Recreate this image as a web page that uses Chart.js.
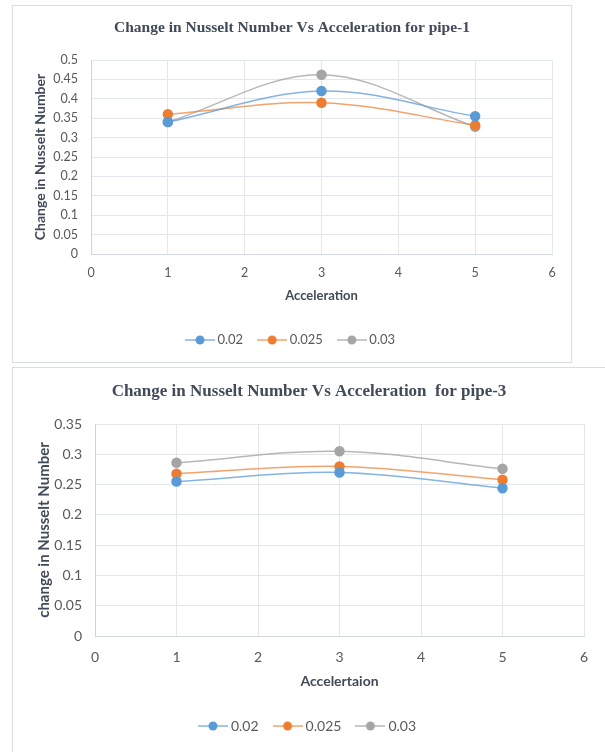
<!DOCTYPE html>
<html>
<head>
<meta charset="utf-8">
<script src="https://cdn.jsdelivr.net/npm/chart.js@4/dist/chart.umd.min.js"></script>
<style>
  html, body { margin: 0; padding: 0; background: #fff; overflow: hidden; }
  body { width: 605px; height: 752px; position: relative; }
  .box { position: absolute; border: 1px solid #d9dde3; background: #fff; }
  #box1 { left: 12px; top: 5px; width: 558px; height: 356px; }
  #box2 { left: 12px; top: 367px; width: 600px; height: 400px; border-right: none; border-bottom: none; }
  canvas { display: block; }
</style>
</head>
<body>
<div class="box" id="box1"><canvas id="pipe1Chart" width="558" height="356"></canvas></div>
<div class="box" id="box2"><canvas id="pipe3Chart" width="592" height="384"></canvas></div>
<script>
// x values (acceleration) and series names
const acceleration = [1, 3, 5];
const seriesNames = ['0.02', '0.025', '0.03'];

// pipe-1 values
const pipe1_002 = [0.34, 0.42, 0.355];
const pipe1_0025 = [0.36, 0.39, 0.332];
const pipe1_003 = [0.34, 0.462, 0.328];

// pipe-3 values
const pipe3_002 = [0.255, 0.27, 0.244];
const pipe3_0025 = [0.268, 0.28, 0.258];
const pipe3_003 = [0.286, 0.305, 0.276];

// axis ranges
const xRange = [0, 6];
const pipe1YRange = [0, 0.5];
const pipe3YRange = [0, 0.35];
const yStep = 0.05;

const colors = ['#5B9BD5', '#ED7D31', '#A5A5A5'];
const lineColors = ['rgba(91, 155, 213, 0.75)', 'rgba(237, 125, 49, 0.7)', 'rgba(165, 165, 165, 0.8)'];
const textColor = '#595959';
const titleColor = '#404a58';
const gridColor = '#e3e6ec';

Chart.defaults.devicePixelRatio = 1;

// line-with-dot marker for the legend (Excel style)
function legendMarker(i) {
    const c = document.createElement('canvas');
    c.width = 30;
    c.height = 10;
    const ctx = c.getContext('2d');
    ctx.strokeStyle = lineColors[i];
    ctx.lineWidth = 1.5;
    ctx.beginPath();
    ctx.moveTo(0, 5);
    ctx.lineTo(30, 5);
    ctx.stroke();
    ctx.fillStyle = colors[i];
    ctx.beginPath();
    ctx.arc(15, 5, 4.5, 0, Math.PI * 2);
    ctx.fill();
    return c;
}
const markers = colors.map((c, i) => legendMarker(i));

function buildDatasets(seriesValues) {
    return seriesValues.map((vals, i) => ({
        label: seriesNames[i],
        data: acceleration.map((x, j) => ({ x: x, y: vals[j] })),
        borderColor: lineColors[i],
        backgroundColor: colors[i],
        pointBackgroundColor: colors[i],
        pointBorderColor: colors[i],
        pointStyle: 'circle',
        pointRadius: 4.5,
        pointHoverRadius: 4.5,
        borderWidth: 1.5,
        tension: 0.35
    }));
}

function makeChart(id, s) {
    return new Chart(document.getElementById(id), {
        type: 'line',
        data: { datasets: buildDatasets(s.series) },
        options: {
            responsive: false,
            animation: false,
            layout: { padding: { left: 0, right: 0, top: 0, bottom: s.padBottom } },
            plugins: {
                tooltip: { enabled: false },
                title: {
                    display: true,
                    text: s.title,
                    color: titleColor,
                    font: { family: "'Liberation Serif', serif", weight: 'bold', size: s.titleSize },
                    padding: { top: s.titlePadTop, bottom: s.titlePadBottom }
                },
                legend: {
                    position: 'bottom',
                    labels: {
                        usePointStyle: true,
                        pointStyleWidth: 22,
                        padding: 18,
                        color: textColor,
                        font: { family: 'Lato', size: s.legendSize },
                        generateLabels: (chart) => {
                            const items = Chart.defaults.plugins.legend.labels.generateLabels(chart);
                            items.forEach((it, i) => { it.pointStyle = markers[i]; });
                            return items;
                        }
                    }
                }
            },
            scales: {
                x: {
                    type: 'linear',
                    min: xRange[0],
                    max: xRange[1],
                    afterFit: (scale) => { scale.height = s.xHeight; },
                    ticks: { stepSize: 1, color: textColor, padding: s.xTickPad, font: { family: 'Lato', size: s.tickSize } },
                    grid: { color: gridColor, drawTicks: false },
                    border: { color: '#d3d7de' },
                    title: {
                        display: true,
                        text: s.xTitle,
                        color: titleColor,
                        font: { family: 'Lato', weight: 'bold', size: s.xTitleSize },
                        padding: { top: 0, bottom: s.xTitlePadBottom }
                    }
                },
                y: {
                    min: s.yRange[0],
                    max: s.yRange[1],
                    afterFit: (scale) => { scale.width = s.yWidth; },
                    ticks: {
                        stepSize: yStep,
                        color: textColor,
                        padding: 13,
                        font: { family: 'Lato', size: s.tickSize },
                        callback: (v) => String(+v.toFixed(2))
                    },
                    grid: { color: gridColor, drawTicks: false },
                    border: { color: '#cfd3da' },
                    title: {
                        display: true,
                        text: s.yTitle,
                        color: titleColor,
                        font: { family: 'Lato', weight: 'bold', size: s.yTitleSize },
                        padding: { top: s.yTitlePad, bottom: 0 }
                    }
                },
                // empty spacer on the right so title and legend stay centred on the box
                yRight: {
                    type: 'linear',
                    position: 'right',
                    afterFit: (scale) => { scale.width = s.rightWidth; },
                    grid: { display: false },
                    ticks: { display: false },
                    border: { display: false }
                }
            }
        }
    });
}

makeChart('pipe1Chart', {
    series: [pipe1_002, pipe1_0025, pipe1_003],
    title: 'Change in Nusselt Number Vs Acceleration for pipe-1',
    xTitle: 'Acceleration',
    yTitle: 'Change in Nusselt Number',
    yRange: pipe1YRange,
    titleSize: 15.5, titlePadTop: 12.7, titlePadBottom: 22.7,
    tickSize: 12.5, xTitleSize: 13, yTitleSize: 14, legendSize: 13,
    xHeight: 61.5, xTickPad: 11.8, xTitlePadBottom: 11.7,
    yWidth: 78, yTitlePad: 18.6,
    rightWidth: 19, padBottom: 5.5
});

makeChart('pipe3Chart', {
    series: [pipe3_002, pipe3_0025, pipe3_003],
    title: 'Change in Nusselt Number Vs Acceleration  for pipe-3',
    xTitle: 'Accelertaion',
    yTitle: 'change in Nusselt Number',
    yRange: pipe3YRange,
    titleSize: 17, titlePadTop: 13.8, titlePadBottom: 21.8,
    tickSize: 14, xTitleSize: 14, yTitleSize: 15, legendSize: 14,
    xHeight: 65, xTickPad: 12.6, xTitlePadBottom: 11.6,
    yWidth: 82, yTitlePad: 22,
    rightWidth: 21, padBottom: 9
});
</script>
</body>
</html>
